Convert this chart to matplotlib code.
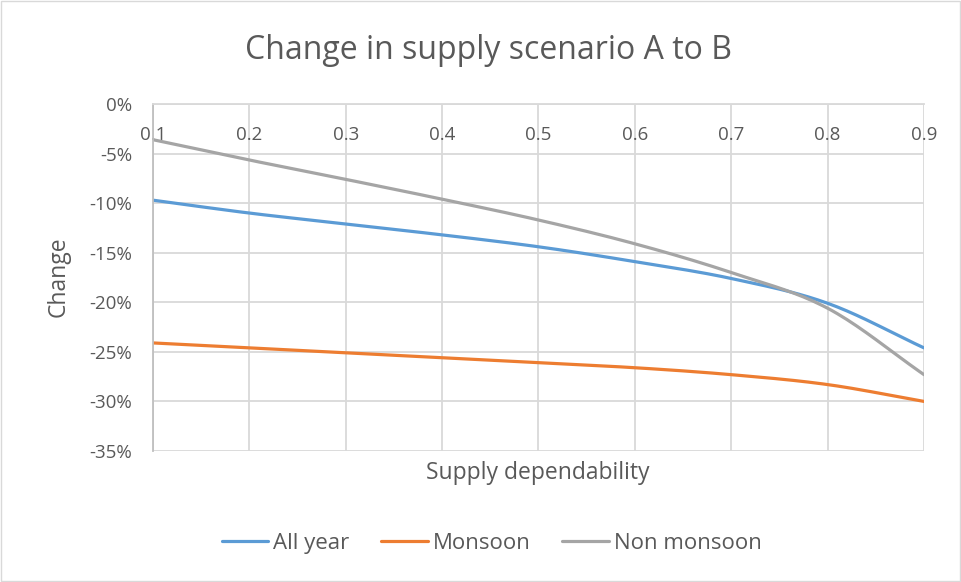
import numpy as np
import matplotlib
matplotlib.use("Agg")
import matplotlib.pyplot as plt
import matplotlib.ticker as ticker
from matplotlib.patches import Rectangle

plt.rcParams["font.family"] = ["Open Sans", "DejaVu Sans"]

# data
dependability = [0.1, 0.2, 0.3, 0.4, 0.5, 0.6, 0.7, 0.8, 0.9]
all_year = [-9.7, -11.0, -12.1, -13.2, -14.4, -15.9, -17.6, -20.1, -24.6]
monsoon = [-24.1, -24.6, -25.1, -25.6, -26.1, -26.6, -27.3, -28.3, -30.0]
non_monsoon = [-3.6, -5.65, -7.6, -9.6, -11.7, -14.1, -17.0, -20.6, -27.3]

SERIES = [("All year", all_year, "#5B9BD5"),
          ("Monsoon", monsoon, "#ED7D31"),
          ("Non monsoon", non_monsoon, "#A5A5A5")]

TXT = "#595959"
GRID = "#d9d9d9"


def smooth(x, y, n=20):
    # Catmull-Rom style smoothing, similar to Excel's "smoothed line"
    x = np.asarray(x, float)
    y = np.asarray(y, float)
    px = np.concatenate([[2 * x[0] - x[1]], x, [2 * x[-1] - x[-2]]])
    py = np.concatenate([[2 * y[0] - y[1]], y, [2 * y[-1] - y[-2]]])
    xs, ys = [], []
    t = np.linspace(0, 1, n, endpoint=False)
    for i in range(1, len(px) - 2):
        for p, out in ((px, xs), (py, ys)):
            p0, p1, p2, p3 = p[i - 1], p[i], p[i + 1], p[i + 2]
            out.extend(0.5 * ((2 * p1) + (-p0 + p2) * t
                              + (2 * p0 - 5 * p1 + 4 * p2 - p3) * t ** 2
                              + (-p0 + 3 * p1 - 3 * p2 + p3) * t ** 3))
    xs.append(x[-1])
    ys.append(y[-1])
    return np.array(xs), np.array(ys)


fig = plt.figure(figsize=(9.62, 5.82), dpi=100)
fig.patches.append(Rectangle((0.001, 0.001), 0.997, 0.997, transform=fig.transFigure,
                             fill=False, edgecolor="#d9d9d9", linewidth=1))
ax = fig.add_axes([0.159, 0.2251, 0.8015, 0.5962])

for name, vals, col in SERIES:
    sx, sy = smooth(dependability, vals)
    ax.plot(sx, sy, color=col, linewidth=2.3, label=name, solid_capstyle="round")

ax.set_xlim(0.1, 0.9)
ax.set_ylim(-35, 0)
ax.set_xticks(dependability)
ax.xaxis.set_major_formatter(ticker.FormatStrFormatter("%.1f"))
ax.yaxis.set_major_locator(ticker.MultipleLocator(5))
ax.yaxis.set_major_formatter(ticker.FuncFormatter(lambda v, p: f"{v:.0f}%"))

ax.grid(True, color=GRID, linewidth=1.3)
ax.set_axisbelow(True)
for s in ["right", "top"]:
    ax.spines[s].set_visible(False)
ax.spines["bottom"].set_position(("data", 0))
ax.spines["bottom"].set_color(GRID)
ax.spines["bottom"].set_linewidth(1.3)
ax.spines["left"].set_color("#bfbfbf")
ax.spines["left"].set_linewidth(1.3)
ax.tick_params(axis="both", length=0, labelsize=13.5, labelcolor=TXT)
ax.tick_params(axis="x", pad=16)
ax.tick_params(axis="y", pad=15)

fig.text(0.5585, 0.188, "Supply dependability", ha="center", va="center",
         fontsize=16.5, color=TXT)
fig.text(0.061, 0.524, "Change", ha="center", va="center", rotation=90,
         fontsize=16.5, color=TXT)
fig.text(0.508, 0.913, "Change in supply scenario A to B", ha="center", va="center",
         fontsize=23, color=TXT)

fig.legend(loc="center", bbox_to_anchor=(0.511, 0.067), ncol=3, frameon=False,
           fontsize=16, labelcolor=TXT, handlelength=2.1, handletextpad=0.2,
           columnspacing=1.45)

fig.savefig("out.png", dpi=100)
